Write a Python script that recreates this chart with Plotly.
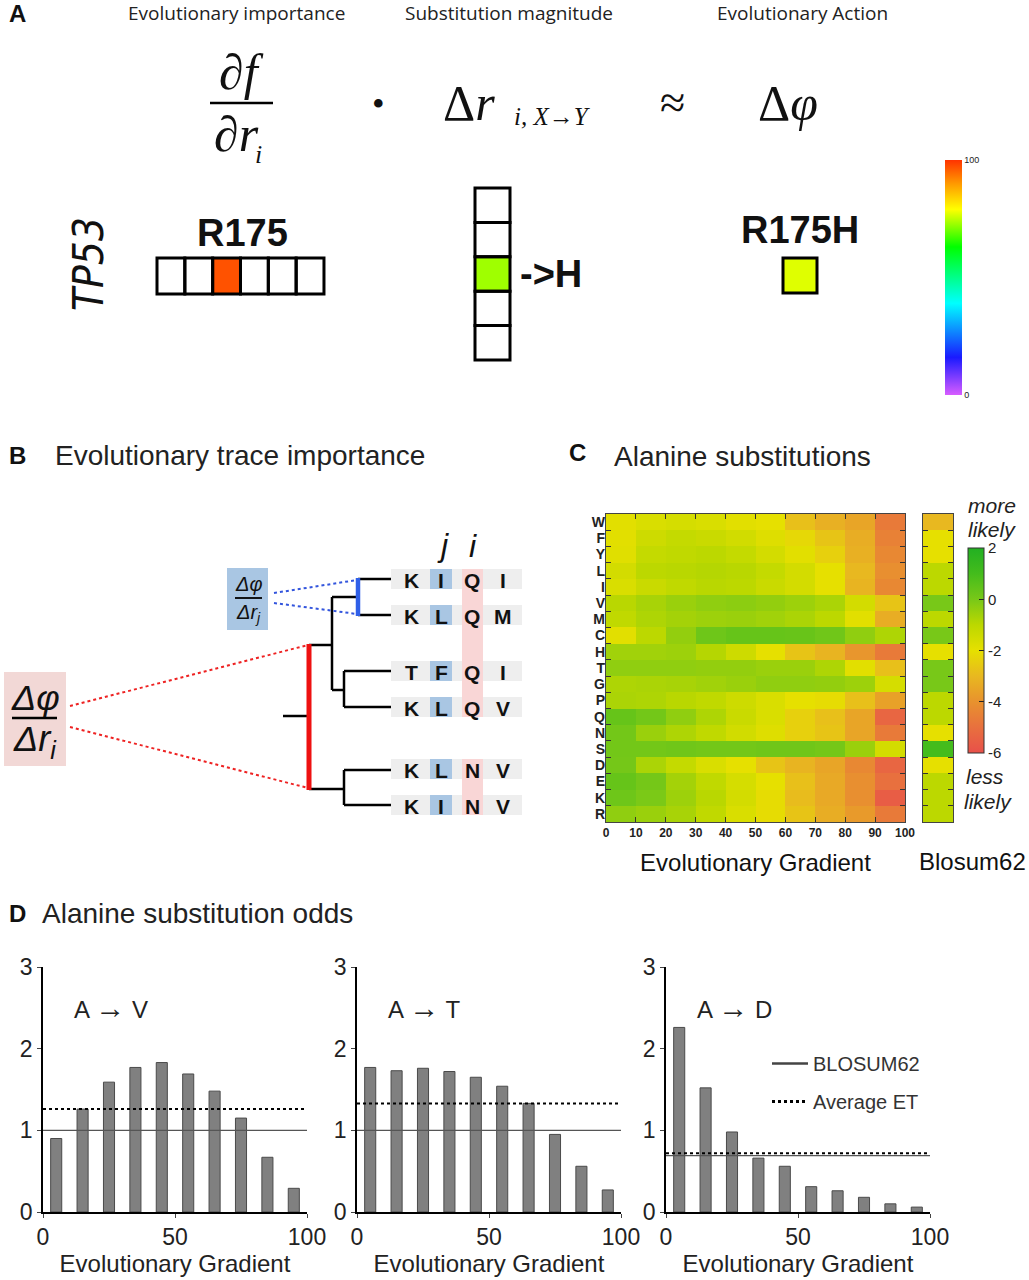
import plotly.graph_objects as go

W, H = 1029, 1280
SANS = "Liberation Sans, Arial, sans-serif"
SERIF = "Liberation Serif, Times New Roman, serif"
OPEN = "Open Sans, Liberation Sans, sans-serif"
NARROW = "Liberation Sans Narrow, DejaVu Sans Condensed, Liberation Sans, sans-serif"

# ---------------- data ----------------
# Panel A (values on the 0-100 rainbow scale; None = empty box)
importance_row = [None, None, 97, None, None, None]      # R175
substitution_col = [None, None, 73, None, None]          # -> H
action_cell = [77]                                        # R175H

# Panel B alignment
align_rows = ["KIQI", "KLQM", "TFQI", "KLQV", "KLNV", "KINV"]

# Panel C
aa_labels = ["W", "F", "Y", "L", "I", "V", "M", "C", "H", "T", "G", "P", "Q", "N", "S", "D", "E", "K", "R"]
grad_bins = [5, 15, 25, 35, 45, 55, 65, 75, 85, 95]
grad_ticks = [0, 10, 20, 30, 40, 50, 60, 70, 80, 90, 100]
heat_W = [-1.9, -1.7, -1.6, -1.7, -1.9, -2.0, -2.8, -3.2, -3.5, -4.7]
heat_F = [-1.9, -1.4, -1.2, -1.3, -1.5, -1.8, -2.2, -2.7, -3.3, -4.5]
heat_Y = [-1.85, -1.2, -1.1, -1.0, -1.2, -1.55, -1.9, -2.4, -3.2, -4.3]
heat_L = [-1.55, -1.0, -0.95, -0.9, -0.95, -1.2, -1.55, -2.0, -3.0, -4.1]
heat_I = [-1.7, -1.3, -1.1, -0.95, -1.0, -1.3, -1.55, -2.0, -3.1, -4.3]
heat_V = [-0.95, -0.7, -0.5, -0.35, -0.3, -0.4, -0.55, -0.75, -1.55, -2.7]
heat_M = [-1.1, -0.8, -0.65, -0.55, -0.5, -0.6, -0.75, -1.0, -1.9, -3.3]
heat_C = [-1.9, -1.0, -0.4, 0.2, 0.35, 0.35, 0.3, 0.15, -0.35, -0.8]
heat_H = [-0.6, -0.6, -0.55, -0.9, -1.4, -2.0, -2.7, -3.1, -3.9, -4.7]
heat_T = [-0.35, -0.35, -0.35, -0.4, -0.4, -0.5, -0.5, -0.8, -1.9, -2.8]
heat_G = [-0.8, -0.75, -0.7, -0.6, -0.5, -0.35, -0.35, -0.4, -0.55, -1.6]
heat_P = [-0.75, -0.8, -0.95, -1.1, -1.4, -1.7, -2.0, -2.1, -2.8, -3.6]
heat_Q = [0.35, 0.1, -0.35, -0.8, -1.3, -1.7, -2.4, -2.8, -3.5, -5.3]
heat_N = [0.1, -0.5, -0.8, -1.1, -1.5, -1.8, -2.4, -2.7, -3.5, -4.7]
heat_S = [0.1, 0.1, 0.15, 0.1, 0.1, 0.15, 0.15, 0.05, -0.5, -1.55]
heat_D = [0.05, -0.75, -1.2, -1.7, -2.0, -2.7, -3.1, -3.5, -4.3, -5.3]
heat_E = [0.35, 0.05, -0.65, -1.1, -1.6, -2.0, -2.8, -3.4, -4.1, -5.0]
heat_K = [0.2, -0.05, -0.55, -0.95, -1.55, -2.1, -2.9, -3.4, -4.1, -5.6]
heat_R = [-0.35, -0.5, -0.7, -1.1, -1.7, -2.1, -2.7, -3.3, -3.8, -4.7]
heat_rows = [heat_W, heat_F, heat_Y, heat_L, heat_I, heat_V, heat_M, heat_C, heat_H, heat_T,
             heat_G, heat_P, heat_Q, heat_N, heat_S, heat_D, heat_E, heat_K, heat_R]
blosum62 = [-3, -2, -2, -1, -1, 0, -1, 0, -2, 0, 0, -1, -1, -2, 1, -2, -1, -1, -1]

# Panel D
odds_bins = [5, 15, 25, 35, 45, 55, 65, 75, 85, 95]
odds_AV = [0.90, 1.26, 1.59, 1.77, 1.83, 1.69, 1.48, 1.15, 0.67, 0.29]
odds_AT = [1.77, 1.73, 1.76, 1.72, 1.65, 1.54, 1.33, 0.95, 0.56, 0.27]
odds_AD = [2.26, 1.52, 0.98, 0.66, 0.56, 0.31, 0.26, 0.18, 0.10, 0.06]
blosum_odds = [1.0, 1.0, 0.69]
avg_et_odds = [1.26, 1.33, 0.72]
sub_from = ["A", "A", "A"]
sub_to = ["V", "T", "D"]

# ---------------- styles ----------------
rainbow = [[0.0, "#d75cff"], [0.16, "#1a1aff"], [0.39, "#00ffff"], [0.63, "#00ff00"],
           [0.79, "#ffff00"], [0.9, "#ff9900"], [1.0, "#ff3300"]]
odds_scale = [[0.0, "#e8504a"], [0.125, "#e8703e"], [0.25, "#e8922e"], [0.375, "#e8b820"],
              [0.5, "#e6e000"], [0.625, "#bcd800"], [0.75, "#78c818"], [0.875, "#44bc1c"],
              [1.0, "#22b022"]]

fig = go.Figure()
shapes, annotations = [], []


def line(x0, y0, x1, y1, color="black", width=2.5, dash="solid", layer="above"):
    shapes.append(dict(type="line", xref="x", yref="y", x0=x0, y0=y0, x1=x1, y1=y1,
                       line=dict(color=color, width=width, dash=dash), layer=layer))


def rect(x0, y0, x1, y1, fill="rgba(0,0,0,0)", lc="rgba(0,0,0,0)", lw=0, layer="below"):
    shapes.append(dict(type="rect", xref="x", yref="y", x0=x0, y0=y0, x1=x1, y1=y1,
                       fillcolor=fill, line=dict(color=lc, width=lw), layer=layer))


def txt(s, x, y, size, family=SANS, color="#111", xa="center", ya="middle", angle=0,
        weight="normal", xref="x", yref="y"):
    annotations.append(dict(text=s, x=x, y=y, xref=xref, yref=yref, showarrow=False,
                            font=dict(size=size, family=family, color=color, weight=weight),
                            xanchor=xa, yanchor=ya, textangle=angle))


# ================= Panel A =================
txt("<b>A</b>", 17, 13, 24)
txt("Evolutionary importance", 236, 13, 19, OPEN, "#222")
txt("Substitution magnitude", 509, 13, 19, OPEN, "#222")
txt("Evolutionary Action", 802, 13, 19, OPEN, "#222")

txt("<i>\u2202f</i>", 241, 72, 50, SERIF)
line(210, 103, 273, 103, width=2.5)
txt("<i>\u2202r</i>", 236, 134, 50, SERIF)
txt("<i>i</i>", 258, 154, 26, SERIF)
txt("\u2022", 378, 104, 36, SERIF)
txt("\u0394<i>r</i>", 441, 103, 50, SERIF, xa="left")
txt("<i>i, X\u2192Y</i>", 512, 116, 25, SERIF, xa="left")
txt("\u2248", 672, 102, 46, SERIF)
txt("\u0394<i>\u03c6</i>", 788, 103, 50, SERIF)

txt("<i>TP53</i>", 88, 264, 42, NARROW, angle=-90)
txt("<b>R175</b>", 242, 233, 38)
txt("<b>->H</b>", 551, 274, 38)
txt("<b>R175H</b>", 800, 230, 38)

# boxes as heatmap cells on the pixel overlay axis
row_x0, row_y0, row_w, row_h = 157, 258, 27.83, 36
col_x0, col_y0, col_w, col_h = 475, 188, 35, 34.4
act_x0, act_y0, act_w, act_h = 783, 258, 34, 35
fig.add_trace(go.Heatmap(z=[importance_row], x0=row_x0 + row_w / 2, dx=row_w, y0=row_y0 + row_h / 2,
                         dy=row_h, coloraxis="coloraxis", hoverinfo="skip", xaxis="x", yaxis="y"))
fig.add_trace(go.Heatmap(z=[[v] for v in substitution_col], x0=col_x0 + col_w / 2, dx=col_w,
                         y0=col_y0 + col_h / 2, dy=col_h, coloraxis="coloraxis", hoverinfo="skip",
                         xaxis="x", yaxis="y"))
fig.add_trace(go.Heatmap(z=[action_cell], x0=act_x0 + act_w / 2, dx=act_w, y0=act_y0 + act_h / 2,
                         dy=act_h, coloraxis="coloraxis", hoverinfo="skip", xaxis="x", yaxis="y"))
for i in range(len(importance_row)):
    rect(row_x0 + i * row_w, row_y0, row_x0 + (i + 1) * row_w, row_y0 + row_h, lc="black", lw=3, layer="above")
for j in range(len(substitution_col)):
    rect(col_x0, col_y0 + j * col_h, col_x0 + col_w, col_y0 + (j + 1) * col_h, lc="black", lw=3, layer="above")
rect(act_x0, act_y0, act_x0 + act_w, act_y0 + act_h, lc="black", lw=3, layer="above")

# ================= Panel B =================
txt("<b>B</b>", 17, 455, 24)
txt("Evolutionary trace importance", 53, 455, 28, SANS, "#222", xa="left")

row_y = [579, 615, 671, 707, 769, 805]
col_x = [411, 441, 472, 503]
for yc in row_y:
    rect(391, yc - 10, 522, yc + 10, fill="#eeeeee")
rect(462, 569, 483, 717, fill="#f9d6d6")
rect(462, 759, 483, 815, fill="#f9d6d6")
for yc, seq in zip(row_y, align_rows):
    rect(430, yc - 10, 452, yc + 10, fill="#a9c6e3")
    for xc, ch in zip(col_x, seq):
        txt("<b>%s</b>" % ch, xc, yc + 1, 21)
txt("<i>j</i>", 443, 545, 32, SANS)
txt("<i>i</i>", 473, 546, 32, SANS)

# tree
line(358, 579, 391, 579)
line(358, 615, 391, 615)
line(332, 597, 358, 597)
line(332, 597, 332, 690)
line(332, 690, 344, 690)
line(344, 671, 344, 707)
line(344, 671, 391, 671)
line(344, 707, 391, 707)
line(309, 645, 332, 645)
line(283, 716, 309, 716)
line(309, 789, 344, 789)
line(344, 770, 344, 805)
line(344, 770, 391, 770)
line(344, 805, 391, 805)
line(358, 578, 358, 616, color="#2f5fe8", width=4.5)
line(309, 644, 309, 790, color="#ee1111", width=5)

line(274, 593, 357, 580, color="#3355dd", width=2, dash="dot")
line(274, 603, 357, 614, color="#3355dd", width=2, dash="dot")
line(70, 706, 308, 645, color="#ee2222", width=2, dash="dot")
line(70, 727, 308, 788, color="#ee2222", width=2, dash="dot")

rect(227, 568, 268, 630, fill="#a9c6e3")
txt("<i>\u0394\u03c6</i>", 248, 584, 20, SANS)
line(235, 598, 262, 598, width=1.8)
txt("<i>\u0394r<sub>j</sub></i>", 248, 613, 20, SANS)

rect(4, 672, 66, 766, fill="#f2d8d6")
txt("<i>\u0394\u03c6</i>", 35, 697, 36, SANS)
line(12, 718, 57, 718, width=2.5)
txt("<i>\u0394r<sub>i</sub></i>", 35, 741, 36, SANS)

# ================= Panel C =================
txt("<b>C</b>", 577, 452, 24)
txt("Alanine substitutions", 612, 456, 28, SANS, "#222", xa="left")

rows_idx = list(range(len(aa_labels)))
fig.add_trace(go.Heatmap(z=heat_rows, x=grad_bins, y=rows_idx, coloraxis="coloraxis2",
                         xaxis="x2", yaxis="y2", hoverinfo="skip"))
fig.add_trace(go.Scatter(x=[50], y=[9], mode="markers", marker=dict(opacity=0),
                         xaxis="x2", yaxis="y3", showlegend=False, hoverinfo="skip"))
fig.add_trace(go.Heatmap(z=[[v] for v in blosum62], x=[0], y=rows_idx, coloraxis="coloraxis2",
                         xaxis="x4", yaxis="y4", hoverinfo="skip"))

txt("<i>more</i>", 992, 505, 21, SANS, "#222")
txt("<i>likely</i>", 992, 529, 21, SANS, "#222")
txt("<i>less</i>", 985, 776, 21, SANS, "#222")
txt("<i>likely</i>", 988, 801, 21, SANS, "#222")
txt("Blosum62", 972, 861, 24, SANS, "#111")

# ================= Panel D =================
txt("<b>D</b>", 17, 913, 24)
txt("Alanine substitution odds", 40, 913, 28, SANS, "#222", xa="left")

odds_sets = [odds_AV, odds_AT, odds_AD]
for k in range(3):
    xa, ya = "x%d" % (5 + k), "y%d" % (5 + k)
    fig.add_trace(go.Bar(x=odds_bins, y=odds_sets[k], width=4.2, marker=dict(color="#808080",
                         line=dict(color="#4a4a4a", width=1)), xaxis=xa, yaxis=ya,
                         showlegend=False, hoverinfo="skip"))
    fig.add_trace(go.Scatter(x=[0, 100], y=[blosum_odds[k]] * 2, mode="lines",
                             line=dict(color="#555555", width=1.4), xaxis=xa, yaxis=ya,
                             name="BLOSUM62", legendgroup="b", showlegend=False, hoverinfo="skip"))
    fig.add_trace(go.Scatter(x=[0, 100], y=[avg_et_odds[k]] * 2, mode="lines",
                             line=dict(color="black", width=2, dash="dot"), xaxis=xa, yaxis=ya,
                             name="Average ET", legendgroup="e", showlegend=False, hoverinfo="skip"))
    label = "%s <span style=\"font-size:30px\"><b>\u2192</b></span> %s" % (sub_from[k], sub_to[k])
    txt(label, 11, 2.5, 24, SANS, "#222", xa="left", xref=xa, yref=ya)

# legend samples
fig.add_trace(go.Scatter(x=[None], y=[None], mode="lines", line=dict(color="#444", width=2.5),
                         name="BLOSUM62", legendgroup="b", xaxis="x7", yaxis="y7"))
fig.add_trace(go.Scatter(x=[None], y=[None], mode="lines", line=dict(color="black", width=3, dash="dot"),
                         name="Average ET", legendgroup="e", xaxis="x7", yaxis="y7"))

# ================= layout =================
def px(x):
    return x / W


def py(y):
    return 1 - y / H


c_dom_y = [py(822), py(514)]
d_dom_y = [py(1212), py(967)]
d_dom_x = [[px(43), px(307)], [px(357), px(621)], [px(666), px(930)]]

layout = dict(
    width=W, height=H, margin=dict(l=0, r=0, t=0, b=0, autoexpand=False),
    paper_bgcolor="white", plot_bgcolor="rgba(0,0,0,0)",
    font=dict(family=SANS, color="#111"),
    shapes=shapes, annotations=annotations,
    xaxis=dict(domain=[0, 1], range=[0, W], visible=False, fixedrange=True),
    yaxis=dict(domain=[0, 1], range=[H, 0], visible=False, fixedrange=True),
    coloraxis=dict(colorscale=rainbow, cmin=0, cmax=100,
                   colorbar=dict(x=px(945), xanchor="left", y=py(277.5), yanchor="middle",
                                 len=235 / H, lenmode="fraction", thickness=17, outlinewidth=0,
                                 xpad=0, ypad=0, tickvals=[0, 100], ticks="",
                                 tickfont=dict(size=9, family=SANS, color="#222"))),
    coloraxis2=dict(colorscale=odds_scale, cmin=-6, cmax=2,
                    colorbar=dict(x=px(968), xanchor="left", y=py(650.5), yanchor="middle",
                                  len=205 / H, lenmode="fraction", thickness=16, outlinewidth=1,
                                  outlinecolor="#333", xpad=0, ypad=0,
                                  tickvals=[-6, -4, -2, 0, 2], ticktext=["-6", "-4", "-2", "0", "2"],
                                  ticks="inside", ticklen=5, tickcolor="#222",
                                  tickfont=dict(size=15, family=SANS, color="#222"))),
    xaxis2=dict(domain=[px(606), px(905)], anchor="y2", range=[0, 100], tickvals=grad_ticks,
                ticks="inside", ticklen=5, tickcolor="#333", mirror="ticks", showline=True,
                linecolor="#444", linewidth=1, showgrid=False, zeroline=False,
                tickfont=dict(size=12, family=SANS, color="#222", weight="bold"),
                title=dict(text="Evolutionary Gradient", font=dict(size=24, family=SANS, color="#111"),
                           standoff=14), fixedrange=True),
    yaxis2=dict(domain=c_dom_y, anchor="x2", range=[18.5, -0.5], tickvals=rows_idx,
                ticktext=aa_labels, ticks="", showgrid=False, zeroline=False,
                tickfont=dict(size=14, family=SANS, color="#222", weight="bold"), fixedrange=True),
    yaxis3=dict(domain=c_dom_y, anchor="x2", overlaying="y2", side="right", range=[18.5, -0.5],
                tickvals=[i + 0.5 for i in range(18)], ticks="inside", ticklen=5, tickcolor="#333",
                mirror="ticks", showline=True, linecolor="#444", linewidth=1,
                showticklabels=False, showgrid=False, zeroline=False, fixedrange=True),
    xaxis4=dict(domain=[px(923), px(953)], anchor="y4", range=[-0.5, 0.5], showticklabels=False,
                ticks="", showline=True, mirror=True, linecolor="#444", linewidth=1,
                showgrid=False, zeroline=False, fixedrange=True),
    yaxis4=dict(domain=c_dom_y, anchor="x4", range=[18.5, -0.5],
                tickvals=[i + 0.5 for i in range(18)], ticks="inside", ticklen=5, tickcolor="#333",
                mirror="ticks", showline=True, linecolor="#444", linewidth=1,
                showticklabels=False, showgrid=False, zeroline=False, fixedrange=True),
    showlegend=True,
    legend=dict(x=px(767), y=py(1044), xanchor="left", yanchor="top", bgcolor="rgba(0,0,0,0)",
                font=dict(size=20, family=SANS, color="#333"), tracegroupgap=9, itemwidth=36),
)

for k in range(3):
    n = 5 + k
    layout["xaxis%d" % n] = dict(domain=d_dom_x[k], anchor="y%d" % n, range=[0, 100],
                                 tickvals=[0, 50, 100], ticks="outside", ticklen=4,
                                 showline=True, linecolor="black", linewidth=1.5,
                                 showgrid=False, zeroline=False,
                                 tickfont=dict(size=23, family=SANS, color="#222"),
                                 title=dict(text="Evolutionary Gradient",
                                            font=dict(size=24, family=SANS, color="#222"),
                                            standoff=6), fixedrange=True)
    layout["yaxis%d" % n] = dict(domain=d_dom_y, anchor="x%d" % n, range=[0, 3],
                                 tickvals=[0, 1, 2, 3], ticks="outside", ticklen=4,
                                 showline=True, linecolor="black", linewidth=1.5,
                                 showgrid=False, zeroline=False,
                                 tickfont=dict(size=23, family=SANS, color="#222"), fixedrange=True)

fig.update_layout(**layout)
fig.write_html("out.html", config={"displayModeBar": False},
               post_script="document.body.style.margin='0px';")
